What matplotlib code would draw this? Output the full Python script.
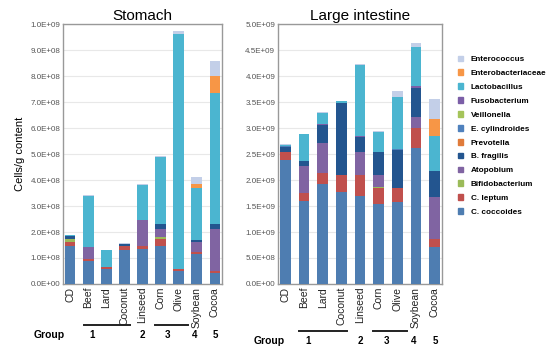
import matplotlib
matplotlib.use("Agg")
import matplotlib.pyplot as plt
import numpy as np
from matplotlib.transforms import blended_transform_factory
from matplotlib.lines import Line2D

plt.rcParams['font.family'] = ['Liberation Sans', 'DejaVu Sans']

diets = ["CD", "Beef", "Lard", "Coconut", "Linseed", "Corn", "Olive", "Soybean", "Cocoa"]
species = ["C. coccoides", "C. leptum", "Bifidobacterium", "Atopobium", "B. fragilis",
           "Prevotella", "E. cylindroides", "Veillonella", "Fusobacterium",
           "Lactobacillus", "Enterobacteriaceae", "Enterococcus"]
colors = ["#4e7db1", "#c0504d", "#9bbb59", "#8064a2", "#23558f",
          "#e07b3a", "#4f81bd", "#a5c45a", "#7b5ea7",
          "#4bb5d0", "#f79646", "#c3cfe8"]

# Stomach, units of 1e8 cells/g (rows: species, cols: diets)
stomach = {
    "C. coccoides":       [1.48, 0.90, 0.56, 1.32, 1.34, 1.45, 0.49, 1.17, 0.43],
    "C. leptum":          [0.12, 0.07, 0.08, 0.16, 0.12, 0.29, 0.07, 0.08, 0.08],
    "Bifidobacterium":    [0.12, 0.00, 0.00, 0.00, 0.00, 0.06, 0.00, 0.00, 0.00],
    "Atopobium":          [0.02, 0.46, 0.03, 0.00, 1.00, 0.31, 0.02, 0.35, 1.60],
    "B. fragilis":        [0.10, 0.00, 0.00, 0.05, 0.00, 0.21, 0.00, 0.08, 0.19],
    "Prevotella":         [0.00, 0.00, 0.00, 0.00, 0.00, 0.00, 0.00, 0.00, 0.00],
    "E. cylindroides":    [0.00, 0.00, 0.00, 0.00, 0.00, 0.00, 0.00, 0.00, 0.00],
    "Veillonella":        [0.00, 0.00, 0.00, 0.00, 0.00, 0.00, 0.00, 0.00, 0.00],
    "Fusobacterium":      [0.00, 0.00, 0.00, 0.00, 0.02, 0.00, 0.00, 0.00, 0.00],
    "Lactobacillus":      [0.03, 1.96, 0.63, 0.02, 1.32, 2.58, 9.02, 2.03, 5.04],
    "Enterobacteriaceae": [0.00, 0.00, 0.00, 0.00, 0.00, 0.00, 0.00, 0.13, 0.66],
    "Enterococcus":       [0.02, 0.03, 0.01, 0.01, 0.03, 0.02, 0.13, 0.28, 0.58],
}
# Large intestine, units of 1e9 cells/g
large = {
    "C. coccoides":       [2.38, 1.59, 1.92, 1.77, 1.69, 1.54, 1.57, 2.61, 0.71],
    "C. leptum":          [0.16, 0.16, 0.21, 0.32, 0.41, 0.30, 0.28, 0.39, 0.16],
    "Bifidobacterium":    [0.00, 0.00, 0.00, 0.00, 0.00, 0.03, 0.00, 0.00, 0.00],
    "Atopobium":          [0.00, 0.52, 0.59, 0.00, 0.44, 0.22, 0.00, 0.21, 0.80],
    "B. fragilis":        [0.09, 0.10, 0.34, 1.39, 0.29, 0.44, 0.73, 0.56, 0.50],
    "Prevotella":         [0.00, 0.00, 0.00, 0.00, 0.00, 0.00, 0.00, 0.00, 0.00],
    "E. cylindroides":    [0.02, 0.00, 0.00, 0.00, 0.00, 0.00, 0.02, 0.00, 0.00],
    "Veillonella":        [0.00, 0.00, 0.00, 0.00, 0.00, 0.00, 0.00, 0.00, 0.00],
    "Fusobacterium":      [0.00, 0.00, 0.01, 0.00, 0.02, 0.01, 0.00, 0.04, 0.00],
    "Lactobacillus":      [0.03, 0.51, 0.22, 0.03, 1.37, 0.39, 0.99, 0.75, 0.68],
    "Enterobacteriaceae": [0.00, 0.00, 0.00, 0.00, 0.00, 0.00, 0.00, 0.00, 0.32],
    "Enterococcus":       [0.02, 0.01, 0.01, 0.01, 0.01, 0.01, 0.12, 0.07, 0.38],
}
stomach_ticks = ["0.0E+00", "1.0E+08", "2.0E+08", "3.0E+08", "4.0E+08", "5.0E+08",
                 "6.0E+08", "7.0E+08", "8.0E+08", "9.0E+08", "1.0E+09"]
large_ticks = ["0.0E+00", "5.0E+08", "1.0E+09", "1.5E+09", "2.0E+09", "2.5E+09",
               "3.0E+09", "3.5E+09", "4.0E+09", "4.5E+09", "5.0E+09"]
group_labels = ["1", "2", "3", "4", "5"]
group_label_x = [1.2, 4.0, 5.4, 6.9, 8.05]
group_lines = [(0.75, 3.3), (4.7, 6.5)]

W, H = 550, 349
fig = plt.figure(figsize=(W / 100, H / 100), dpi=100)

def make_ax(rect_px, data, scale, ymax, ticks, title, line_y, text_y, group_x):
    l, t, w, h = rect_px
    ax = fig.add_axes([l / W, 1 - (t + h) / H, w / W, h / H])
    x = np.arange(len(diets))
    bottom = np.zeros(len(diets))
    for sp, c in zip(species, colors):
        vals = np.array(data[sp]) * scale
        ax.bar(x, vals, 0.58, bottom=bottom, color=c, edgecolor='none', zorder=3)
        bottom += vals
    ax.set_xlim(-0.4, 8.4)
    ax.set_ylim(0, ymax)
    tv = np.linspace(0, ymax, 11)
    ax.set_yticks(tv)
    ax.set_yticklabels(ticks, fontsize=5.8, color='#555555')
    ax.yaxis.grid(True, color='#e8e8e8', linewidth=0.8, zorder=0)
    ax.set_xticks(x)
    ax.set_xticklabels(diets, rotation=90, fontsize=7.5, color='#222222')
    ax.tick_params(axis='both', length=0, pad=2)
    for s in ax.spines.values():
        s.set_color('#999999')
        s.set_linewidth(1.0)
    ax.set_title(title, fontsize=11, pad=3)
    tr = blended_transform_factory(ax.transData, fig.transFigure)
    for (a, b) in group_lines:
        ax.add_line(Line2D([a, b], [1 - line_y / H] * 2, transform=tr, color='#222222',
                           linewidth=1.4, clip_on=False))
    for gx, gl in zip(group_label_x, group_labels):
        ax.text(gx, 1 - text_y / H, gl, transform=tr, fontsize=7, fontweight='bold',
                ha='center', va='center')
    ax.text(group_x, 1 - text_y / H, "Group", transform=tr, fontsize=7.5, fontweight='bold',
            ha='right', va='center')
    return ax

ax1 = make_ax((63, 24, 159, 260), stomach, 1e8, 1e9, stomach_ticks, "Stomach", 325, 335, -0.3)
ax1.set_ylabel("Cells/g content", fontsize=8, labelpad=4)
ax2 = make_ax((278, 24, 164, 260), large, 1e9, 5e9, large_ticks, "Large intestine", 331, 341, -0.05)

handles = [plt.Rectangle((0, 0), 1, 1, color=c) for c in colors][::-1]
fig.legend(handles, species[::-1], loc='upper left', bbox_to_anchor=(451 / W, 1 - 49 / H),
           frameon=False, prop={'weight': 'bold', 'size': 5.9},
           handlelength=0.7, handleheight=0.7, handletextpad=0.9, labelspacing=0.75,
           borderpad=0.3)

fig.savefig("out.png", dpi=100)
